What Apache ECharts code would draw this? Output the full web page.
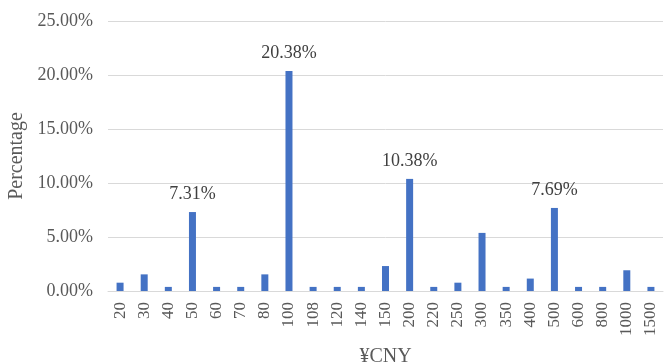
<!DOCTYPE html>
<html>
<head>
<meta charset="utf-8">
<script src="https://cdn.jsdelivr.net/npm/echarts@6/dist/echarts.min.js"></script>
<style>
  html, body { margin: 0; padding: 0; background: #fff; }
  #chart { width: 667px; height: 364px; }
</style>
</head>
<body>
<div id="chart"></div>
<script>
// Price points (CNY) and the share of responses at each one (%)
const categories = ['20','30','40','50','60','70','80','100','108','120','140','150','200','220','250','300','350','400','500','600','800','1000','1500'];
const percentages = [0.77,1.54,0.38,7.31,0.38,0.38,1.54,20.38,0.38,0.38,0.38,2.31,10.38,0.38,0.77,5.38,0.38,1.15,7.69,0.38,0.38,1.92,0.38];
// Only these price points carry a value label
const labelledCategories = ['50','100','200','500'];
const yTicks = { min: 0, max: 25, interval: 5 };

const serif = '"Liberation Serif", "DejaVu Serif", serif';

const seriesData = percentages.map((v, i) => ({
  value: v,
  label: { show: labelledCategories.includes(categories[i]) }
}));

const chart = echarts.init(document.getElementById('chart'));
chart.setOption({
  animation: false,
  grid: { left: 108, right: 4, top: 21, bottom: 73, containLabel: false, outerBoundsMode: 'none' },
  xAxis: {
    type: 'category',
    data: categories,
    name: '¥CNY',
    nameLocation: 'middle',
    nameGap: 56,
    nameTextStyle: { fontFamily: serif, fontSize: 20, color: '#595959' },
    axisLine: { show: true, lineStyle: { color: '#d9d9d9', width: 1 } },
    axisTick: { show: false },
    axisLabel: { rotate: 90, fontFamily: serif, fontSize: 17, color: '#595959', margin: 11, interval: 0 }
  },
  yAxis: {
    type: 'value',
    min: yTicks.min,
    max: yTicks.max,
    interval: yTicks.interval,
    name: 'Percentage',
    nameLocation: 'middle',
    nameGap: 79,
    nameTextStyle: { fontFamily: serif, fontSize: 20, color: '#595959' },
    axisLine: { show: false },
    axisTick: { show: false },
    splitLine: { lineStyle: { color: '#d9d9d9', width: 1 } },
    axisLabel: { fontFamily: serif, fontSize: 18, color: '#595959', margin: 15, formatter: v => v.toFixed(2) + '%' }
  },
  series: [{
    type: 'bar',
    data: seriesData,
    barWidth: 7,
    itemStyle: { color: '#4472C4' },
    label: {
      position: 'top',
      distance: 9,
      fontFamily: serif,
      fontSize: 18,
      color: '#404040',
      formatter: p => p.value.toFixed(2) + '%'
    }
  }]
});
</script>
</body>
</html>
